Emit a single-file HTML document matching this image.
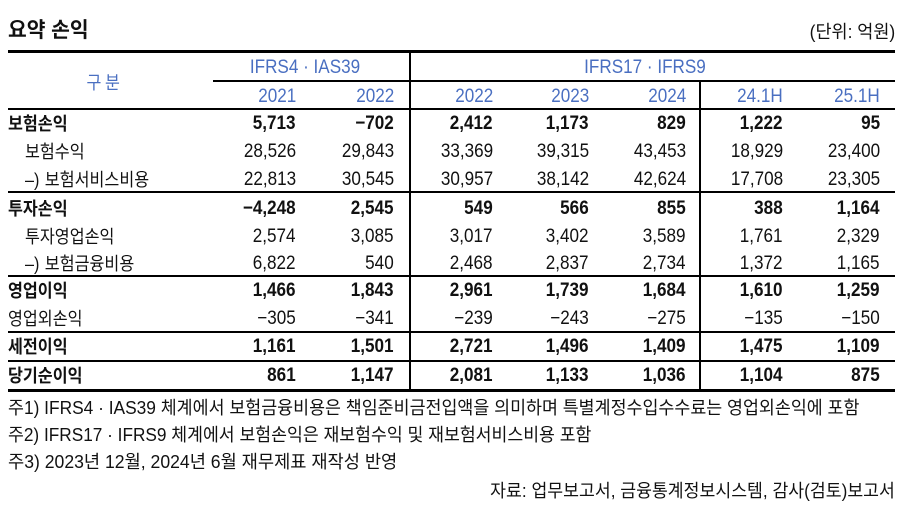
<!DOCTYPE html>
<html><head><meta charset="utf-8">
<style>
html,body{margin:0;padding:0;background:#fff;}
#c{position:relative;width:900px;height:505px;overflow:hidden;background:#fff;}
.t{position:absolute;white-space:nowrap;font-family:"Liberation Sans","Noto Sans CJK KR",sans-serif;height:24px;line-height:24px;color:#111;}
.l{transform:scaleX(0.9);transform-origin:left center;}
.r{transform:scaleX(0.9);transform-origin:right center;text-align:right;}
.m{transform:translateX(-50%) scaleX(0.9);transform-origin:center center;}
.b{font-weight:bold;}
.v{font-size:19px;}
.k{font-size:18px;}
.bl{color:#4a6fc1;}
.h{position:absolute;background:#000;}
.d{display:inline-block;width:22px;}
</style></head>
<body><div id="c">
<!-- title -->
<div class="t b" style="left:8px;top:19px;font-size:21px;transform:scaleX(0.97);transform-origin:left center;">요약 손익</div>
<div class="t" style="right:5px;top:20px;font-size:18px;transform:scaleX(0.97);transform-origin:right center;">(단위: 억원)</div>

<!-- lines -->
<div class="h" style="left:8px;top:50px;width:887px;height:3px;"></div>
<div class="h" style="left:213px;top:80px;width:682px;height:2px;"></div>
<div class="h" style="left:8px;top:108px;width:887px;height:2px;"></div>
<div class="h" style="left:8px;top:191px;width:887px;height:2px;"></div>
<div class="h" style="left:8px;top:275px;width:887px;height:2px;"></div>
<div class="h" style="left:8px;top:331px;width:887px;height:2px;"></div>
<div class="h" style="left:8px;top:360px;width:887px;height:2px;"></div>
<div class="h" style="left:8px;top:389px;width:887px;height:3px;"></div>
<div class="h" style="left:409px;top:50px;width:2px;height:341px;"></div>
<div class="h" style="left:699px;top:80px;width:2px;height:311px;"></div>

<!-- header -->
<div class="t m k bl" style="left:105px;top:71px;letter-spacing:4px;">구분</div>
<div class="t m v bl" style="left:305px;top:56px;">IFRS4 · IAS39</div>
<div class="t m v bl" style="left:645px;top:56px;">IFRS17 · IFRS9</div>
<div class="t r v bl" style="right:604px;top:85px;">2021</div>
<div class="t r v bl" style="right:506px;top:85px;">2022</div>
<div class="t r v bl" style="right:407px;top:85px;">2022</div>
<div class="t r v bl" style="right:311px;top:85px;">2023</div>
<div class="t r v bl" style="right:214px;top:85px;">2024</div>
<div class="t r v bl" style="right:117px;top:85px;">24.1H</div>
<div class="t r v bl" style="right:20px;top:85px;">25.1H</div>

<!-- row 1 -->
<div class="t l k b" style="left:8px;top:112px;">보험손익</div>
<div class="t r v b" style="right:604px;top:112px;">5,713</div>
<div class="t r v b" style="right:506px;top:112px;">−702</div>
<div class="t r v b" style="right:407px;top:112px;">2,412</div>
<div class="t r v b" style="right:311px;top:112px;">1,173</div>
<div class="t r v b" style="right:214px;top:112px;">829</div>
<div class="t r v b" style="right:117px;top:112px;">1,222</div>
<div class="t r v b" style="right:20px;top:112px;">95</div>
<!-- row 2 -->
<div class="t l k" style="left:25px;top:140px;">보험수익</div>
<div class="t r v" style="right:604px;top:140px;">28,526</div>
<div class="t r v" style="right:506px;top:140px;">29,843</div>
<div class="t r v" style="right:407px;top:140px;">33,369</div>
<div class="t r v" style="right:311px;top:140px;">39,315</div>
<div class="t r v" style="right:214px;top:140px;">43,453</div>
<div class="t r v" style="right:117px;top:140px;">18,929</div>
<div class="t r v" style="right:20px;top:140px;">23,400</div>
<!-- row 3 -->
<div class="t l k" style="left:25px;top:168px;"><span class="d">–)</span>보험서비스비용</div>
<div class="t r v" style="right:604px;top:168px;">22,813</div>
<div class="t r v" style="right:506px;top:168px;">30,545</div>
<div class="t r v" style="right:407px;top:168px;">30,957</div>
<div class="t r v" style="right:311px;top:168px;">38,142</div>
<div class="t r v" style="right:214px;top:168px;">42,624</div>
<div class="t r v" style="right:117px;top:168px;">17,708</div>
<div class="t r v" style="right:20px;top:168px;">23,305</div>
<!-- row 4 -->
<div class="t l k b" style="left:8px;top:197px;">투자손익</div>
<div class="t r v b" style="right:604px;top:197px;">−4,248</div>
<div class="t r v b" style="right:506px;top:197px;">2,545</div>
<div class="t r v b" style="right:407px;top:197px;">549</div>
<div class="t r v b" style="right:311px;top:197px;">566</div>
<div class="t r v b" style="right:214px;top:197px;">855</div>
<div class="t r v b" style="right:117px;top:197px;">388</div>
<div class="t r v b" style="right:20px;top:197px;">1,164</div>
<!-- row 5 -->
<div class="t l k" style="left:25px;top:225px;">투자영업손익</div>
<div class="t r v" style="right:604px;top:225px;">2,574</div>
<div class="t r v" style="right:506px;top:225px;">3,085</div>
<div class="t r v" style="right:407px;top:225px;">3,017</div>
<div class="t r v" style="right:311px;top:225px;">3,402</div>
<div class="t r v" style="right:214px;top:225px;">3,589</div>
<div class="t r v" style="right:117px;top:225px;">1,761</div>
<div class="t r v" style="right:20px;top:225px;">2,329</div>
<!-- row 6 -->
<div class="t l k" style="left:25px;top:252px;"><span class="d">–)</span>보험금융비용</div>
<div class="t r v" style="right:604px;top:252px;">6,822</div>
<div class="t r v" style="right:506px;top:252px;">540</div>
<div class="t r v" style="right:407px;top:252px;">2,468</div>
<div class="t r v" style="right:311px;top:252px;">2,837</div>
<div class="t r v" style="right:214px;top:252px;">2,734</div>
<div class="t r v" style="right:117px;top:252px;">1,372</div>
<div class="t r v" style="right:20px;top:252px;">1,165</div>
<!-- row 7 -->
<div class="t l k b" style="left:8px;top:279px;">영업이익</div>
<div class="t r v b" style="right:604px;top:279px;">1,466</div>
<div class="t r v b" style="right:506px;top:279px;">1,843</div>
<div class="t r v b" style="right:407px;top:279px;">2,961</div>
<div class="t r v b" style="right:311px;top:279px;">1,739</div>
<div class="t r v b" style="right:214px;top:279px;">1,684</div>
<div class="t r v b" style="right:117px;top:279px;">1,610</div>
<div class="t r v b" style="right:20px;top:279px;">1,259</div>
<!-- row 8 -->
<div class="t l k" style="left:8px;top:307px;">영업외손익</div>
<div class="t r v" style="right:604px;top:307px;">−305</div>
<div class="t r v" style="right:506px;top:307px;">−341</div>
<div class="t r v" style="right:407px;top:307px;">−239</div>
<div class="t r v" style="right:311px;top:307px;">−243</div>
<div class="t r v" style="right:214px;top:307px;">−275</div>
<div class="t r v" style="right:117px;top:307px;">−135</div>
<div class="t r v" style="right:20px;top:307px;">−150</div>
<!-- row 9 -->
<div class="t l k b" style="left:8px;top:335px;">세전이익</div>
<div class="t r v b" style="right:604px;top:335px;">1,161</div>
<div class="t r v b" style="right:506px;top:335px;">1,501</div>
<div class="t r v b" style="right:407px;top:335px;">2,721</div>
<div class="t r v b" style="right:311px;top:335px;">1,496</div>
<div class="t r v b" style="right:214px;top:335px;">1,409</div>
<div class="t r v b" style="right:117px;top:335px;">1,475</div>
<div class="t r v b" style="right:20px;top:335px;">1,109</div>
<!-- row 10 -->
<div class="t l k b" style="left:8px;top:364px;">당기순이익</div>
<div class="t r v b" style="right:604px;top:364px;">861</div>
<div class="t r v b" style="right:506px;top:364px;">1,147</div>
<div class="t r v b" style="right:407px;top:364px;">2,081</div>
<div class="t r v b" style="right:311px;top:364px;">1,133</div>
<div class="t r v b" style="right:214px;top:364px;">1,036</div>
<div class="t r v b" style="right:117px;top:364px;">1,104</div>
<div class="t r v b" style="right:20px;top:364px;">875</div>

<!-- footnotes -->
<div class="t k" style="left:8px;top:396px;transform:scaleX(0.963);transform-origin:left center;">주1) IFRS4 · IAS39 체계에서 보험금융비용은 책임준비금전입액을 의미하며 특별계정수입수수료는 영업외손익에 포함</div>
<div class="t k" style="left:8px;top:423px;transform:scaleX(0.957);transform-origin:left center;">주2) IFRS17 · IFRS9 체계에서 보험손익은 재보험수익 및 재보험서비스비용 포함</div>
<div class="t k" style="left:8px;top:450px;transform:scaleX(0.978);transform-origin:left center;">주3) 2023년 12월, 2024년 6월 재무제표 재작성 반영</div>
<div class="t k" style="right:5px;top:479px;transform:scaleX(0.957);transform-origin:right center;">자료: 업무보고서, 금융통계정보시스템, 감사(검토)보고서</div>
</div></body></html>
